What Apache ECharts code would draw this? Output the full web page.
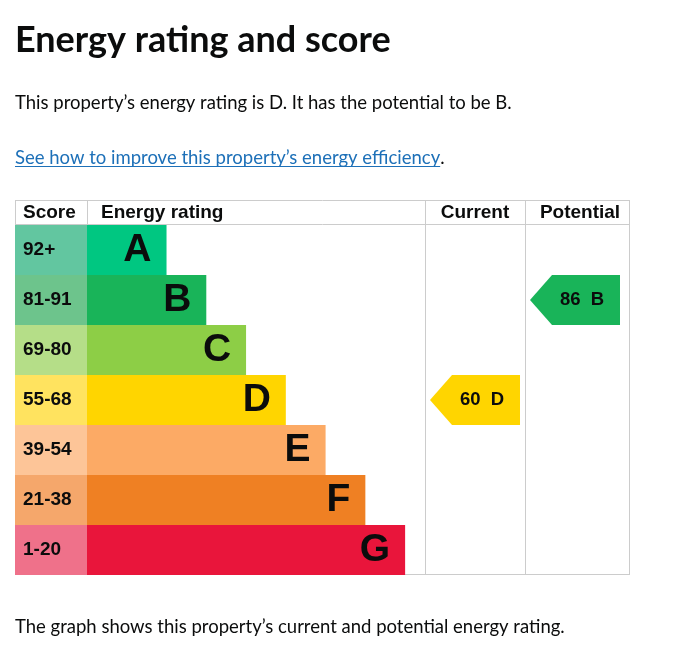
<!DOCTYPE html>
<html>
<head>
<meta charset="utf-8">
<title>Energy rating and score</title>
<script src="https://cdn.jsdelivr.net/npm/echarts@6/dist/echarts.min.js"></script>
<style>
  html, body { margin: 0; padding: 0; background: #fff; }
  #chart { width: 700px; height: 666px; }
</style>
</head>
<body>
<div id="chart"></div>
<script>
// bands, top (best) to bottom
var ratings = ['A', 'B', 'C', 'D', 'E', 'F', 'G'];
var scoreBands = ['92+', '81-91', '69-80', '55-68', '39-54', '21-38', '1-20'];
var barLength = [2, 3, 4, 5, 6, 7, 8];
var bandColors = ['#00c781', '#19b459', '#8dce46', '#ffd500', '#fcaa65', '#ef8023', '#e9153b'];
var scoreColors = ['#62c6a0', '#6dc48c', '#b5de88', '#ffe35f', '#fdc598', '#f5a76b', '#ef718a'];

// current / potential
var columns = ['Current', 'Potential'];
var scores = [60, 86];
var scoreRatings = ['D', 'B'];

var headers = ['Score', 'Energy rating'];

var textFont = 'Lato';
var tableFont = 'Liberation Sans, Arial, sans-serif';
var ink = '#0b0c0c';
var lineColor = '#cccccc';

var chart = echarts.init(document.getElementById('chart'), null, { renderer: 'canvas' });

var arrowData = [];
for (var i = 0; i < scores.length; i++) {
  arrowData.push([i, ratings.indexOf(scoreRatings[i]), scores[i]]);
}

function textWidth(str, font) {
  var ctx = document.createElement('canvas').getContext('2d');
  ctx.font = font;
  return ctx.measureText(str).width;
}

var bodyFont = '18.5px ' + textFont;
var linkText = 'See how to improve this property\u2019s energy efficiency';
var linkW = textWidth(linkText, bodyFont);

function hLine(x1, x2, y) {
  return { type: 'line', z: 0, shape: { x1: x1, y1: y, x2: x2, y2: y }, style: { stroke: lineColor, lineWidth: 1 } };
}
function vLine(x, y1, y2) {
  return { type: 'line', z: 0, shape: { x1: x, y1: y1, x2: x, y2: y2 }, style: { stroke: lineColor, lineWidth: 1 } };
}
function label(str, x, y, font, color, align) {
  return { type: 'text', x: x, y: y, style: { text: str, font: font, fill: color || ink, align: align || 'left', verticalAlign: 'middle' } };
}

var option = {
  animation: false,
  backgroundColor: '#fff',
  grid: [
    { left: 15, top: 225, width: 72, height: 350 },
    { left: 87, top: 225, width: 338, height: 350 },
    { left: 425, top: 225, width: 205, height: 350 }
  ],
  xAxis: [
    { gridIndex: 0, type: 'value', min: 0, max: 1, show: false },
    { gridIndex: 1, type: 'value', min: 0, max: 8.5, show: false },
    { gridIndex: 2, type: 'value', min: 0, max: 2.05, show: false }
  ],
  yAxis: [0, 1, 2].map(function (g) {
    return { gridIndex: g, type: 'category', data: ratings, inverse: true, show: false };
  }),
  graphic: [
    // page texts
    label('Energy rating and score', 15, 40, 'bold 36px ' + textFont),
    label('This property\u2019s energy rating is D. It has the potential to be B.', 15, 103, bodyFont),
    label(linkText, 15, 158, bodyFont, '#1d70b8'),
    { type: 'rect', shape: { x: 15, y: 166, width: linkW, height: 1 }, style: { fill: '#1d70b8' } },
    label('.', 15 + linkW, 158, bodyFont),
    label('The graph shows this property\u2019s current and potential energy rating.', 15, 627, bodyFont),
    // table header
    label(headers[0], 23, 213, 'bold 19px ' + tableFont),
    label(headers[1], 101, 213, 'bold 19px ' + tableFont),
    label(columns[0], 475, 213, 'bold 19px ' + tableFont, ink, 'center'),
    label(columns[1], 580, 213, 'bold 19px ' + tableFont, ink, 'center'),
    // table rules
    hLine(15, 630, 200.5),
    hLine(15, 630, 224.5),
    hLine(15, 630, 574.5),
    vLine(15.5, 200, 225),
    vLine(87.5, 200, 225),
    vLine(425.5, 200, 575),
    vLine(525.5, 200, 575),
    vLine(629.5, 200, 575)
  ],
  series: [
    {
      type: 'bar',
      xAxisIndex: 0,
      yAxisIndex: 0,
      barCategoryGap: '0%',
      z: 3,
      data: ratings.map(function (r, i) {
        return { value: 1, itemStyle: { color: scoreColors[i] } };
      }),
      label: {
        show: true,
        position: 'insideLeft',
        distance: 8,
        formatter: function (p) { return scoreBands[p.dataIndex]; },
        fontFamily: tableFont,
        fontWeight: 'bold',
        fontSize: 19,
        color: ink
      }
    },
    {
      type: 'bar',
      xAxisIndex: 1,
      yAxisIndex: 1,
      barCategoryGap: '0%',
      z: 3,
      data: barLength.map(function (v, i) {
        return { value: v, itemStyle: { color: bandColors[i] } };
      }),
      label: {
        show: true,
        position: 'insideRight',
        distance: 15,
        formatter: function (p) { return ratings[p.dataIndex]; },
        fontFamily: tableFont,
        fontWeight: 'bold',
        fontSize: 39,
        color: ink
      }
    },
    {
      type: 'custom',
      xAxisIndex: 2,
      yAxisIndex: 2,
      z: 3,
      data: arrowData,
      renderItem: function (params, api) {
        var p = api.coord([api.value(0), api.value(1)]);
        var h = api.size([0, 1])[1];
        var tip = p[0] + 5, neck = p[0] + 27, right = p[0] + 95;
        var top = p[1] - h / 2, bottom = p[1] + h / 2;
        var idx = api.value(1);
        return {
          type: 'group',
          children: [
            {
              type: 'polygon',
              shape: { points: [[tip, p[1]], [neck, top], [right, top], [right, bottom], [neck, bottom]] },
              style: { fill: bandColors[idx] }
            },
            {
              type: 'text',
              style: {
                text: api.value(2) + '  ' + ratings[idx],
                x: tip + 52,
                y: p[1],
                align: 'center',
                verticalAlign: 'middle',
                font: 'bold 18.5px ' + tableFont,
                fill: ink
              }
            }
          ]
        };
      }
    }
  ]
};

chart.setOption(option);
</script>
</body>
</html>
